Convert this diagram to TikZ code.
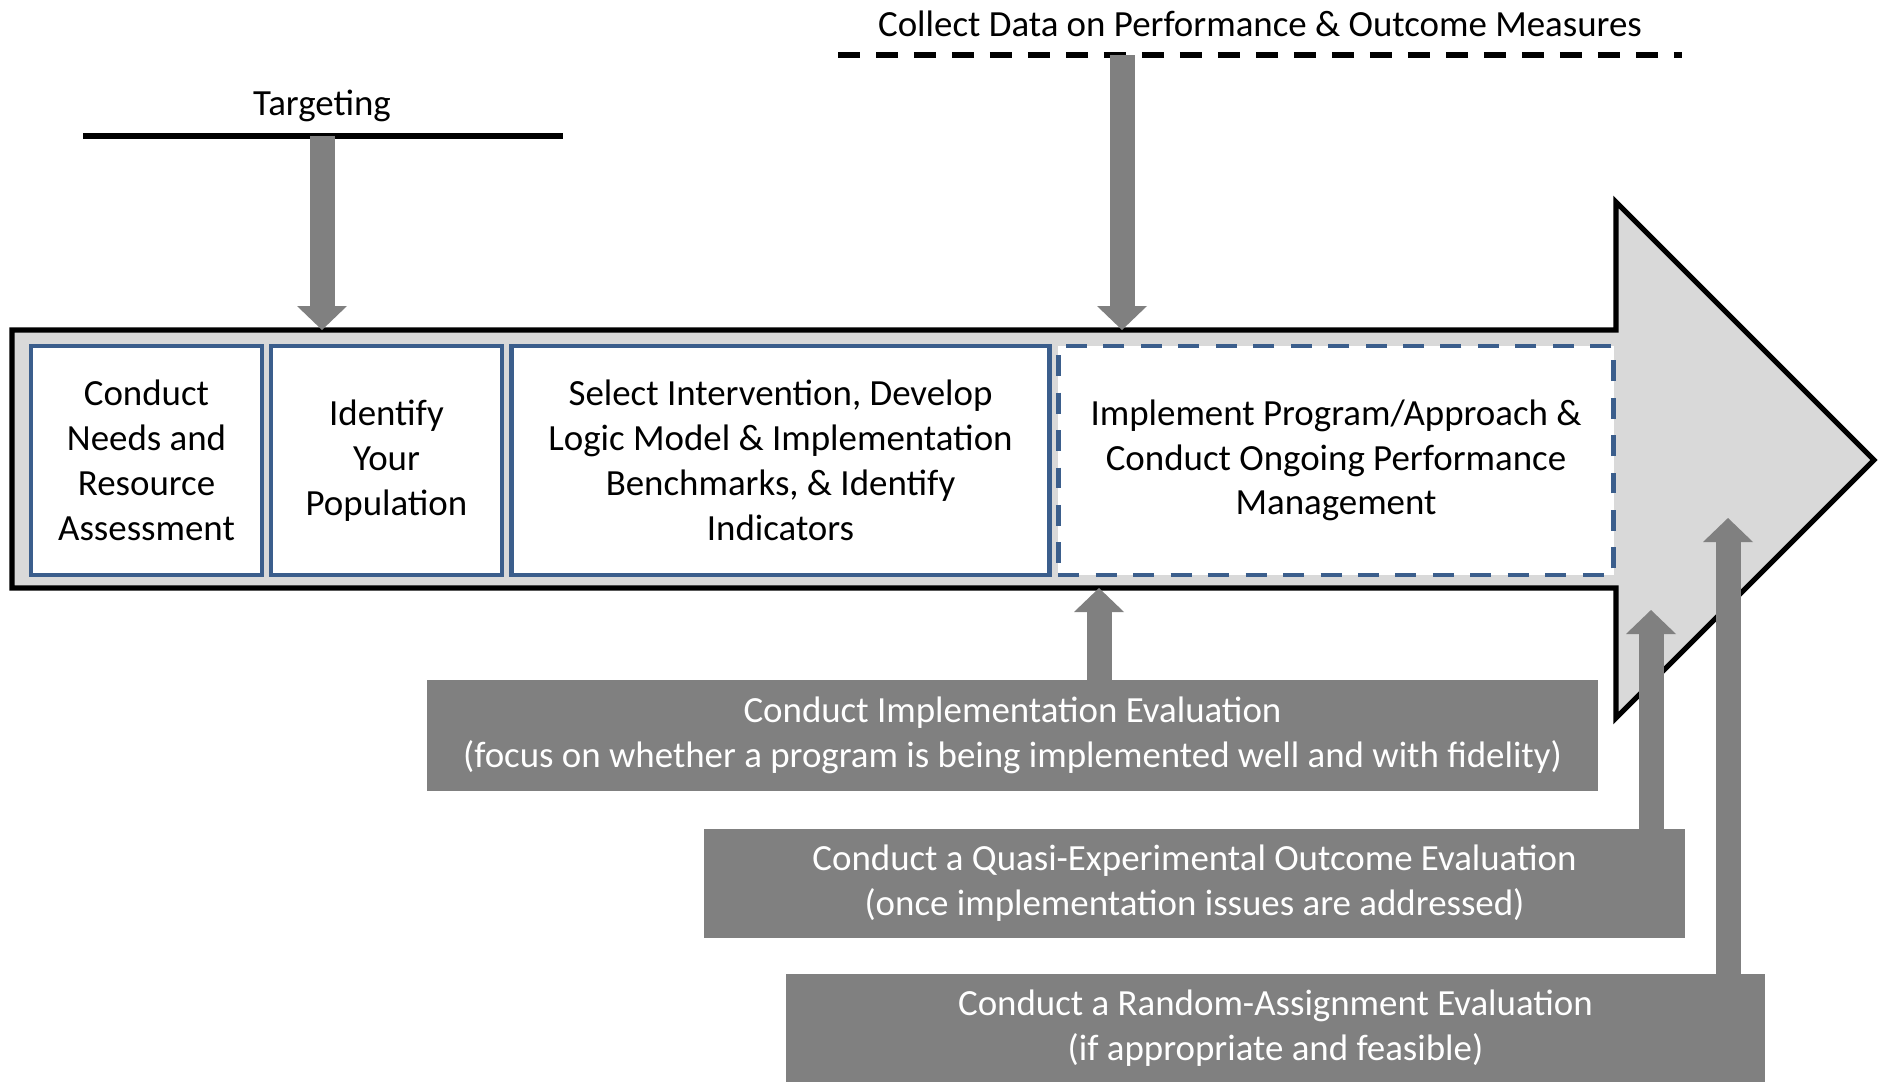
\documentclass[tikz,border=0pt]{standalone}
\usepackage{fontspec}
\setmainfont{Carlito}
\usepackage{tikz}
\usetikzlibrary{arrows.meta}
\usepackage{xcolor}
\definecolor{stageblue}{HTML}{3B5E8C}
\definecolor{bandgray}{HTML}{D9D9D9}
\definecolor{arrowgray}{HTML}{808080}

\begin{document}
\begin{tikzpicture}[x=0.02cm, y=-0.02cm,
  every node/.append style={font=\fontsize{21}{25.5}\selectfont},
  stage/.style={draw=stageblue, line width=2.8pt, fill=white, align=center, inner sep=0pt, minimum height=4.58cm},
  evalbox/.style={fill=arrowgray, text=white, align=center, inner sep=0pt},
  blockarrow/.style={draw=arrowgray, line width=0.5cm, -{Triangle[width=1cm, length=0.48cm, line width=0pt]}}]

\useasboundingbox (0,0) rectangle (1881,1082);

% Draw the big process arrow
\filldraw[fill=bandgray, line width=3pt]
  (12,330) -- (1616,330) -- (1616,202) -- (1874,460) -- (1616,718) -- (1616,588) -- (12,588) -- cycle;

% Stages inside the arrow
\node[stage, minimum width=4.62cm] (needs) at ( 146.5,460.5) {Conduct\\Needs and\\Resource\\Assessment};
\node[stage, minimum width=4.62cm] (popul) at ( 386.5,460.5) {Identify\\Your\\Population};
\node[stage, minimum width=10.78cm] (logic) at ( 780.5,460.5) {Select Intervention, Develop\\Logic Model \& Implementation\\Benchmarks, \& Identify\\Indicators};
\node[stage, minimum width=11.12cm, dash pattern=on 0.42cm off 0.33cm] (implem) at (1336,460.5) {Implement Program/Approach \&\\Conduct Ongoing Performance\\Management};

% Targeting
\node (target) at (322,106) {Targeting};
\draw[line width=3.4pt] (83,136) -- (563,136);
\coordinate (targetfoot) at (322,136);
\coordinate (targethit) at (322,330);
\draw[blockarrow] (targetfoot) -- (targethit);

% Collect data
\node (collect) at (1260,24) {Collect Data on Performance \& Outcome Measures};
\draw[line width=3.6pt, dash pattern=on 0.44cm off 0.32cm] (838,55) -- (1682,55);
\coordinate (collectfoot) at (1122,55);
\coordinate (collecthit) at (1122,330);
\draw[blockarrow] (collectfoot) -- (collecthit);

% Evaluations below the arrow
\coordinate (implhit)   at (1099,588);
\coordinate (quasihit)  at (1651,610);
\coordinate (randomhit) at (1728,518);

\draw[blockarrow] (1099,700) -- (implhit);
\draw[blockarrow] (1651,850) -- (quasihit);
\draw[blockarrow] (1728,1000) -- (randomhit);

\node[evalbox, minimum width=23.42cm, minimum height=2.22cm] (impleval) at (1012.5,735.5)
  {Conduct Implementation Evaluation\\(focus on whether a program is being implemented well and with fidelity)};
\node[evalbox, minimum width=19.62cm, minimum height=2.18cm] (quasieval) at (1194.5,883.5)
  {Conduct a Quasi-Experimental Outcome Evaluation\\(once implementation issues are addressed)};
\node[evalbox, minimum width=19.58cm, minimum height=2.16cm] (randeval) at (1275.5,1028)
  {Conduct a Random-Assignment Evaluation\\(if appropriate and feasible)};

\end{tikzpicture}
\end{document}
